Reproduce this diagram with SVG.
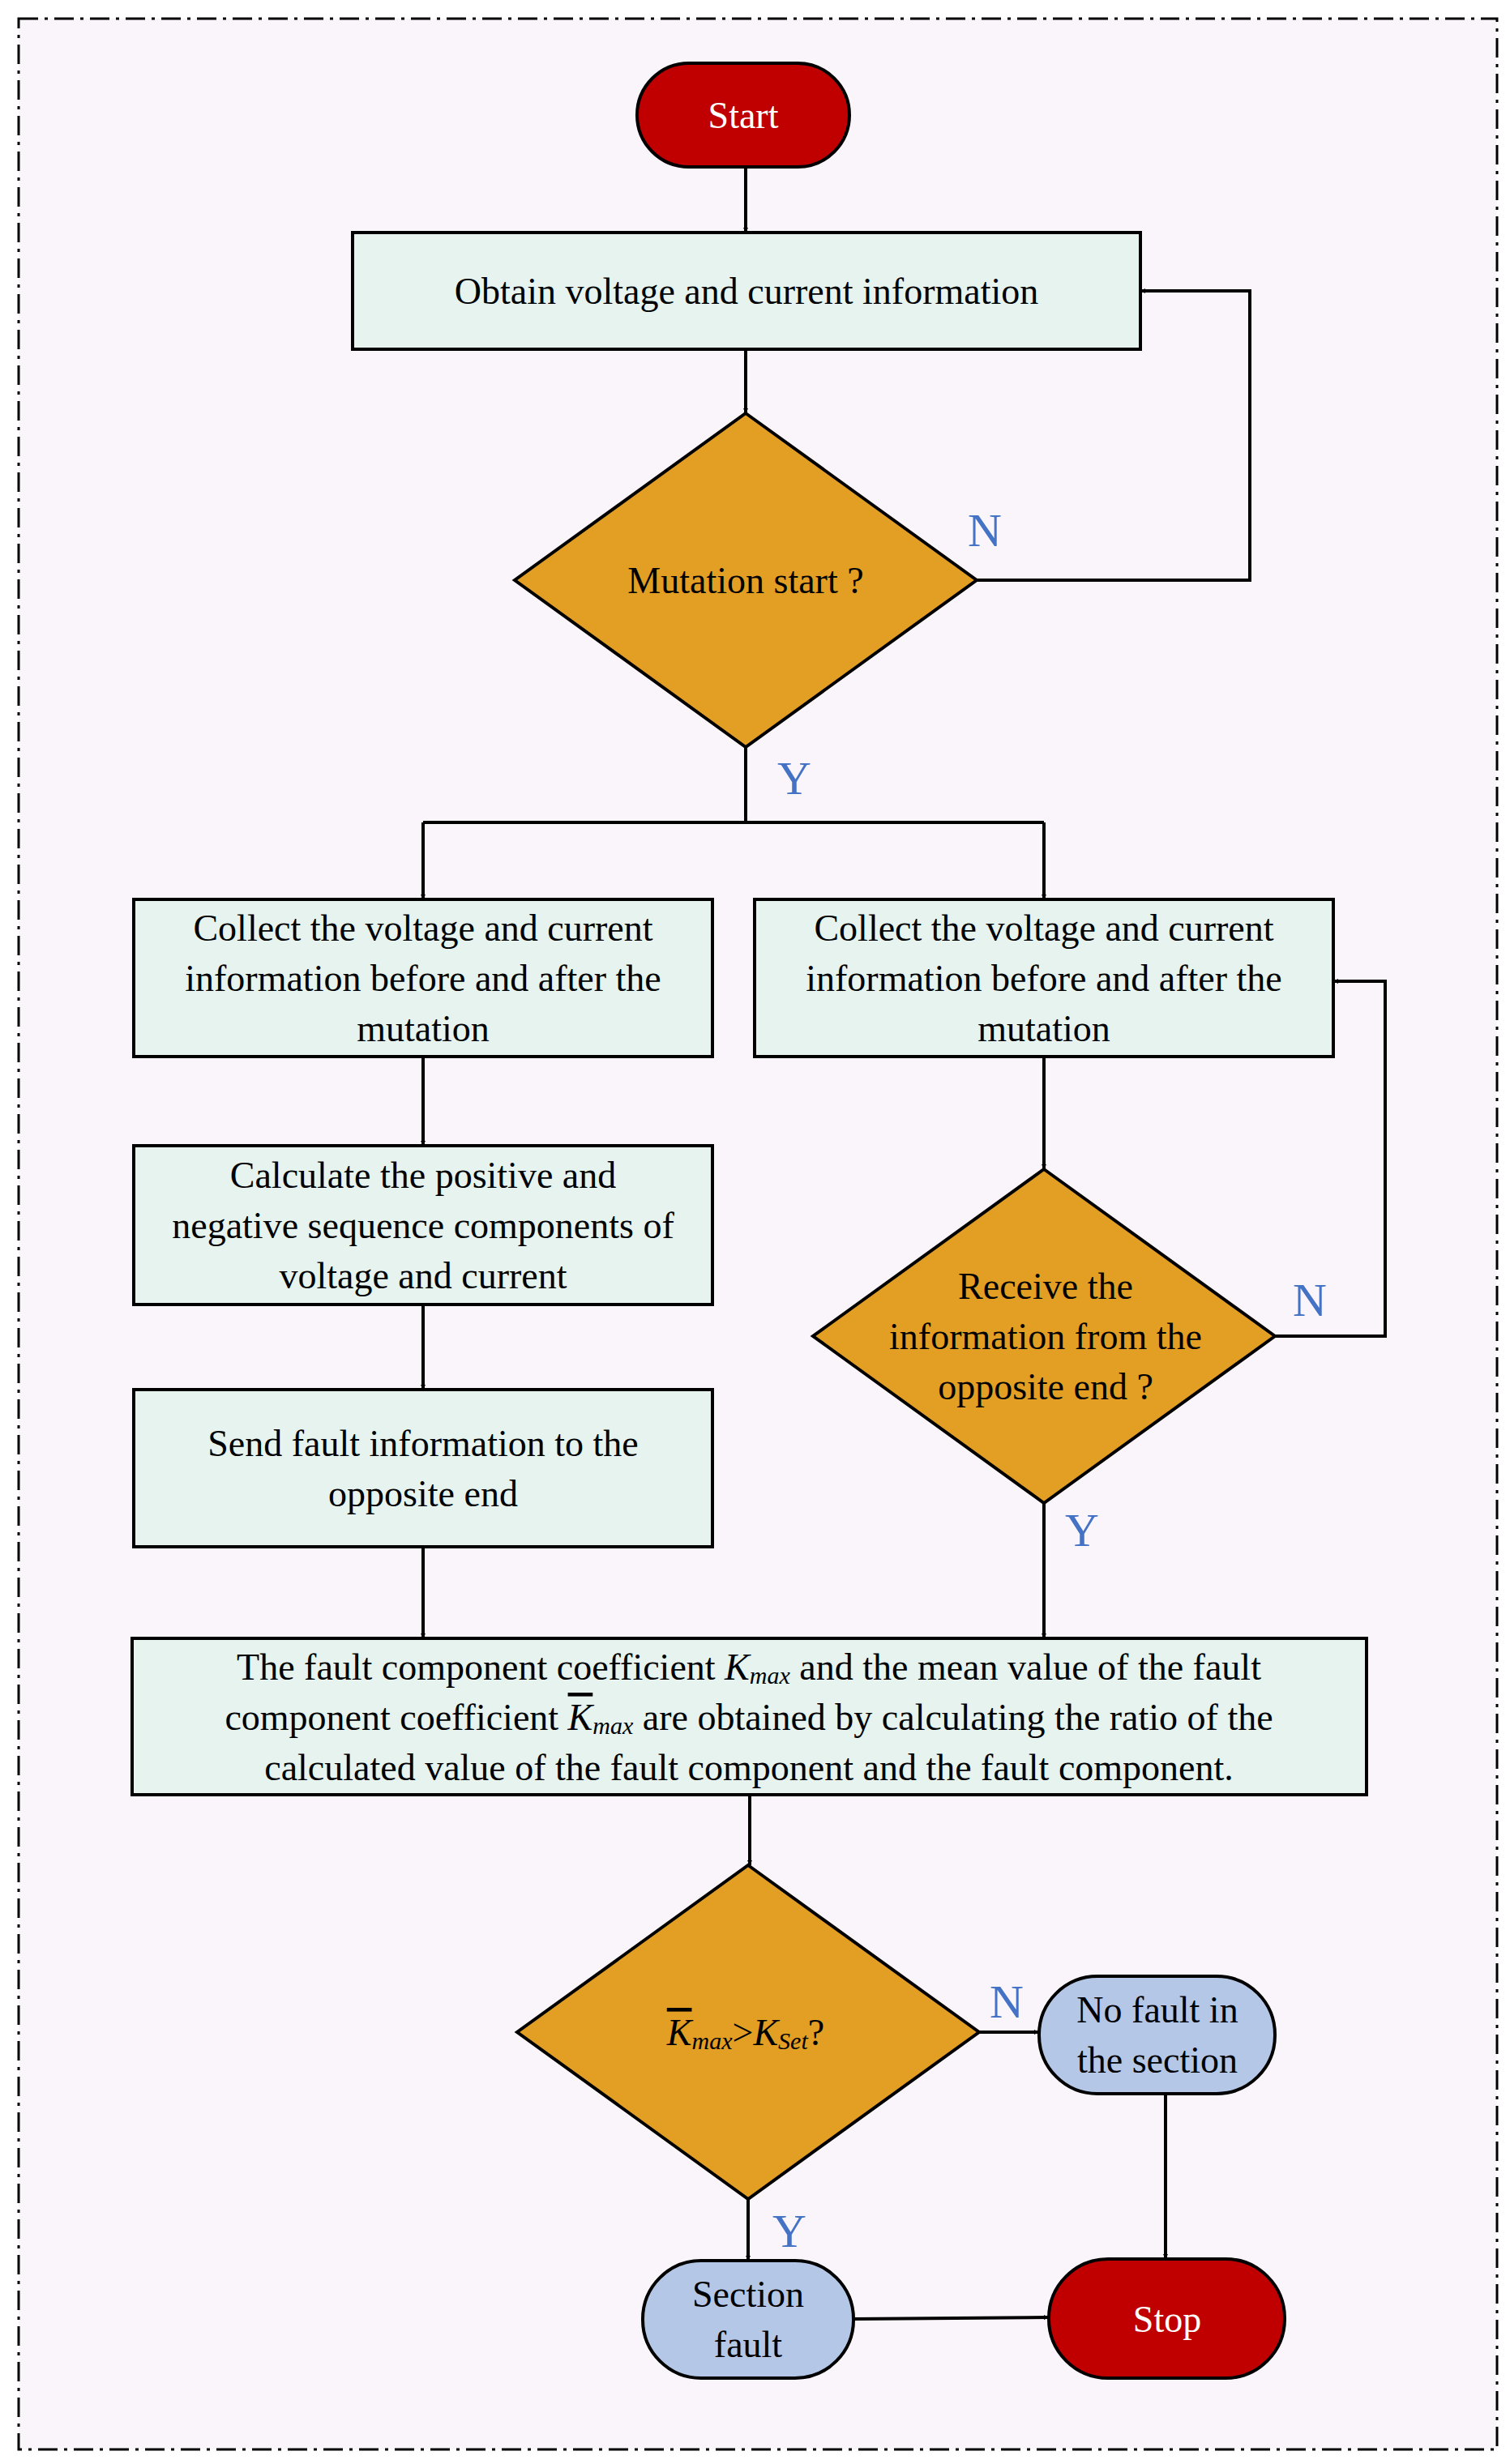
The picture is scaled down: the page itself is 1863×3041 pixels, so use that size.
<svg xmlns="http://www.w3.org/2000/svg" width="1863" height="3041" viewBox="0 0 1863 3041">
<defs>
<marker id="ar" viewBox="0 0 10 10" refX="10" refY="5" markerWidth="6" markerHeight="6" orient="auto" markerUnits="userSpaceOnUse"><path d="M0,0 L10,5 L0,10 z" fill="#000"/></marker>
<style>
.t{font-family:"Liberation Serif","Times New Roman",serif;font-size:46px;fill:#000;text-anchor:middle;dominant-baseline:central}
.w{fill:#fff}
.lb{font-family:"Liberation Serif",serif;font-size:58px;fill:#4472C4;text-anchor:middle;dominant-baseline:central}
.box{fill:#E6F3EF;stroke:#000;stroke-width:4}
.dia{fill:#E39E24;stroke:#000;stroke-width:4}
.red{fill:#C00000;stroke:#000;stroke-width:4}
.blu{fill:#B4C7E7;stroke:#000;stroke-width:4}
.c{fill:none;stroke:#000;stroke-width:4;marker-end:url(#ar)}
.i{font-style:italic}
</style>
</defs>
<rect x="0" y="0" width="1863" height="3041" fill="#fff"/>
<rect x="23" y="23" width="1824" height="3000" fill="#FAF5FA" stroke="#000" stroke-width="3" stroke-dasharray="24,8,4,8"/>
<g id="connectors">
<path class="c" d="M920,206 V287"/>
<path class="c" d="M920,431 V510"/>
<path class="c" d="M1205,716 H1542 V359 H1407"/>
<path d="M920,922 V1015 M522,1015 H1288" fill="none" stroke="#000" stroke-width="4"/>
<path class="c" d="M522,1015 V1110"/>
<path class="c" d="M1288,1015 V1110"/>
<path class="c" d="M522,1304 V1414"/>
<path class="c" d="M522,1610 V1715"/>
<path class="c" d="M1288,1304 V1443"/>
<path class="c" d="M1573,1649 H1709 V1211 H1645"/>
<path class="c" d="M1288,1855 V2022"/>
<path class="c" d="M522,1909 V2022"/>
<path class="c" d="M925,2215 V2302"/>
<path class="c" d="M1208,2508 H1282"/>
<path class="c" d="M1438,2584 V2788"/>
<path class="c" d="M923,2714 V2790"/>
<path class="c" d="M1053,2862 L1294,2860"/>
</g>
<g id="labels">
<text class="lb" x="1215" y="654">N</text>
<text class="lb" x="980" y="960">Y</text>
<text class="lb" x="1616" y="1604">N</text>
<text class="lb" x="1335" y="1888">Y</text>
<text class="lb" x="1242" y="2470">N</text>
<text class="lb" x="974" y="2753">Y</text>
</g>
<g id="start"><rect class="red" x="786" y="78" width="262" height="128" rx="64"/><text class="t w" x="917" y="142">Start</text></g>
<g id="obtain"><rect class="box" x="435" y="287" width="972" height="144"/><text class="t" x="921" y="359">Obtain voltage and current information</text></g>
<g id="mutation"><polygon class="dia" points="920,510 1205,716 920,922 635,716"/><text class="t" x="920" y="716">Mutation start ?</text></g>
<g id="collectL"><rect class="box" x="165" y="1110" width="714" height="194"/>
<text class="t" x="522" y="1145">Collect the voltage and current</text><text class="t" x="522" y="1207">information before and after the</text><text class="t" x="522" y="1269">mutation</text></g>
<g id="collectR"><rect class="box" x="931" y="1110" width="714" height="194"/>
<text class="t" x="1288" y="1145">Collect the voltage and current</text><text class="t" x="1288" y="1207">information before and after the</text><text class="t" x="1288" y="1269">mutation</text></g>
<g id="calc"><rect class="box" x="165" y="1414" width="714" height="196"/>
<text class="t" x="522" y="1450">Calculate the positive and</text><text class="t" x="522" y="1512">negative sequence components of</text><text class="t" x="522" y="1574">voltage and current</text></g>
<g id="send"><rect class="box" x="165" y="1715" width="714" height="194"/>
<text class="t" x="522" y="1781">Send fault information to the</text><text class="t" x="522" y="1843">opposite end</text></g>
<g id="receive"><polygon class="dia" points="1288,1443 1573,1649 1288,1855 1003,1649"/>
<text class="t" x="1290" y="1587">Receive the</text><text class="t" x="1290" y="1649">information from the</text><text class="t" x="1290" y="1711">opposite end ?</text></g>
<g id="coef"><rect class="box" x="163" y="2022" width="1523" height="193"/>
<text class="t" x="924" y="2057">The fault component coefficient <tspan class="i">K</tspan><tspan class="i" font-size="30" dy="10">max</tspan><tspan dy="-10"> and the mean value of the fault</tspan></text>
<text class="t" x="924" y="2119">component coefficient <tspan class="i" text-decoration="overline">K</tspan><tspan class="i" font-size="30" dy="10">max</tspan><tspan dy="-10"> are obtained by calculating the ratio of the</tspan></text>
<text class="t" x="924" y="2181">calculated value of the fault component and the fault component.</text></g>
<g id="compare"><polygon class="dia" points="923,2302 1208,2508 923,2714 638,2508"/>
<text class="t" x="920" y="2508"><tspan class="i" text-decoration="overline">K</tspan><tspan class="i" font-size="30" dy="10">max</tspan><tspan dy="-10">&gt;</tspan><tspan class="i">K</tspan><tspan class="i" font-size="30" dy="10">Set</tspan><tspan dy="-10">?</tspan></text></g>
<g id="nofault"><rect class="blu" x="1282" y="2439" width="291" height="145" rx="72"/>
<text class="t" x="1428" y="2480">No fault in</text><text class="t" x="1428" y="2542">the section</text></g>
<g id="section"><rect class="blu" x="793" y="2790" width="260" height="145" rx="72"/>
<text class="t" x="923" y="2831">Section</text><text class="t" x="923" y="2893">fault</text></g>
<g id="stop"><rect class="red" x="1294" y="2788" width="291" height="147" rx="73"/><text class="t w" x="1440" y="2862">Stop</text></g>
</svg>
